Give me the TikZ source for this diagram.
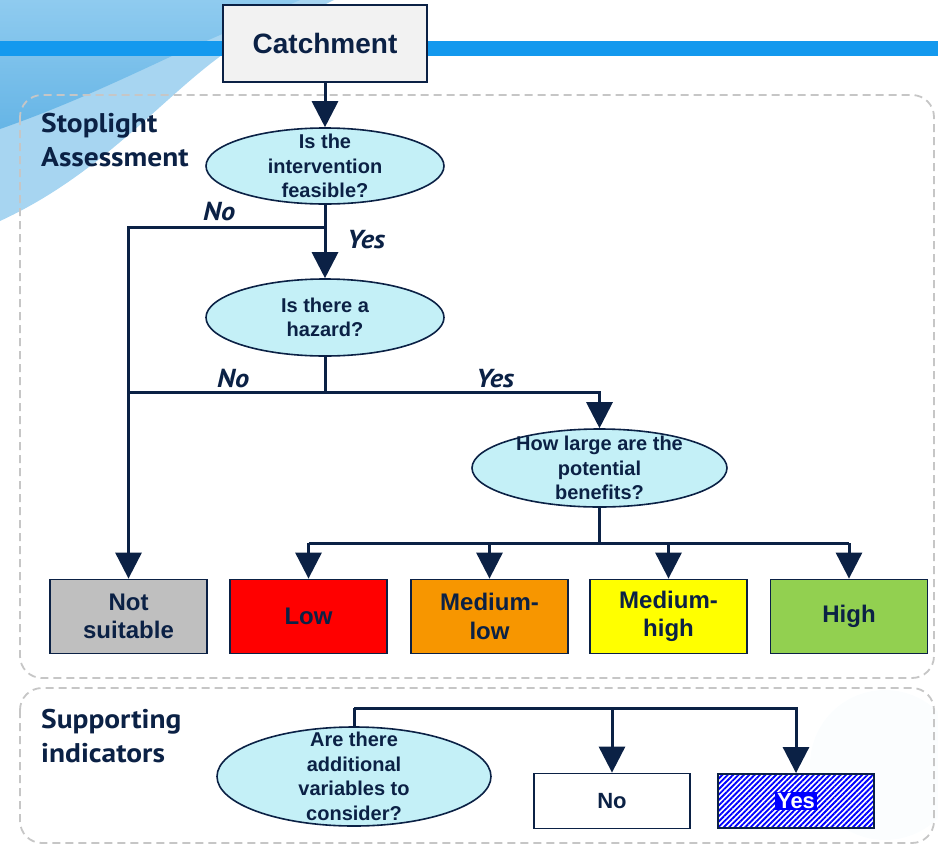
\documentclass[tikz,border=0pt]{standalone}
\usepackage{fontspec}
\setmainfont{Liberation Sans}
\newfontfamily\headfont[FakeStretch=1.09]{PT Sans}
\usetikzlibrary{arrows.meta,shapes.geometric,patterns.meta}

\definecolor{navy}{HTML}{0B2145}
\definecolor{barblue}{HTML}{1499EE}
\definecolor{swooshdark}{HTML}{66B5E6}
\definecolor{swooshtop}{HTML}{8FCBEF}
\definecolor{swooshlight}{HTML}{A7D5F1}
\definecolor{qfill}{HTML}{C4F0F7}
\definecolor{regiongray}{HTML}{C6C6C6}
\definecolor{greybox}{HTML}{BFBFBF}
\definecolor{redbox}{HTML}{FF0000}
\definecolor{orangebox}{HTML}{F79600}
\definecolor{yellowbox}{HTML}{FFFF00}
\definecolor{greenbox}{HTML}{92D050}
\definecolor{stripeblue}{HTML}{0000FF}

\tikzset{
  region/.style={draw=regiongray, line width=1.8pt, dash pattern=on 8pt off 5pt, rounded corners=22pt},
  question/.style={ellipse, draw=navy, line width=1.6pt, fill=qfill, inner sep=0pt},
  qtext/.style={text=navy, align=center, font=\bfseries\fontsize{20}{24.5}\selectfont, inner sep=0pt},
  outcome/.style={rectangle, draw=navy, line width=1.8pt, minimum width=157pt, minimum height=74pt,
    text=navy, align=center, font=\bfseries\fontsize{24}{28.5}\selectfont, inner sep=0pt},
  wire/.style={draw=navy, line width=3pt},
  flow/.style={wire, -{Triangle[width=26pt,length=26pt]}},
  branchlabel/.style={text=navy, anchor=base west, inner sep=0pt, font=\headfont\bfseries\itshape\fontsize{26}{30}\selectfont},
  sectiontitle/.style={text=navy, anchor=base west, inner sep=0pt, font=\headfont\bfseries\fontsize{27}{32}\selectfont},
}

\begin{document}
\begin{tikzpicture}[x=1pt,y=-1pt]
\useasboundingbox (0,0) rectangle (938,847);

% decorative header: swoosh and bar
\fill[swooshlight] (0,0) -- (334,0) -- (222,55) .. controls (160,100) and (100,175) .. (0,221) -- cycle;
\shade[top color=swooshtop, bottom color=swooshdark] (0,0) -- (300,0) -- (172,56) .. controls (110,85) and (60,108) .. (0,129) -- cycle;
\fill[white!92!swooshlight, opacity=0.6] (885,765) circle (75);
\fill[barblue] (0,41) rectangle (938,55.5);

% grouping frames
\draw[region] (20,95) rectangle (934,678);
\draw[region] (20,688) rectangle (934,843);

\node[sectiontitle] (t1) at (41,132) {Stoplight};
\node[sectiontitle] (t2) at (41,166) {Assessment};
\node[sectiontitle] (t3) at (41,728) {Supporting};
\node[sectiontitle] (t4) at (41,762) {indicators};

% start box
\node[rectangle, draw=navy, line width=1.8pt, fill=black!5, minimum width=204pt, minimum height=77pt,
      text=navy, font=\bfseries\fontsize{28}{32}\selectfont] (catch) at (325,43.5) {Catchment};

% questions
\node[question, minimum width=238pt, minimum height=76pt] (q1) at (325,166) {};
\node[qtext] at (q1.center) {Is the\\intervention\\feasible?};
\node[question, minimum width=238pt, minimum height=77pt] (q2) at (325,317.5) {};
\node[qtext] at (q2.center) {Is there a\\hazard?};
\node[question, minimum width=255pt, minimum height=78pt] (q3) at (599.5,468) {};
\node[qtext] at (q3.center) {How large are the\\potential\\benefits?};
\node[question, minimum width=274pt, minimum height=99pt] (q4) at (354,776.5) {};
\node[qtext] at (q4.center) {Are there\\additional\\variables to\\consider?};

% outcomes
\node[outcome, fill=greybox]   (ns)   at (128.5,616.5) {Not\\suitable};
\node[outcome, fill=redbox]    (low)  at (308.5,616.5) {Low};
\node[outcome, fill=orangebox] (mlow) at (489.5,616.5) {Medium-\\low};
\node[outcome, fill=yellowbox] (mhigh) at (668.5,616.5) {Medium-\\high};
\node[outcome, fill=greenbox]  (high) at (849,616.5) {High};

\node[outcome, fill=white, minimum width=156pt, minimum height=55pt, font=\bfseries\fontsize{22}{26}\selectfont] (no) at (612,801) {No};
\node[outcome, minimum width=156pt, minimum height=54pt, preaction={fill=white},
      pattern={Lines[angle=45,distance=3.8pt,line width=1.9pt]}, pattern color=stripeblue] (yes) at (796,801) {};
\node[fill=stripeblue, text=white, inner xsep=2pt, inner ysep=1.5pt, font=\bfseries\fontsize{22}{26}\selectfont] (yestxt) at (yes.center) {Yes};

% junctions
\coordinate (j1) at (325,227);
\coordinate (j2) at (325,392);
\coordinate (j3) at (599.5,543);
\coordinate (j4) at (354,708);

% connectors
\draw[flow] (catch.south) -- (q1.north);
\draw[wire] (q1.south) -- (j1);
\draw[flow] (j1) -- (q2.north);
\draw[flow] (j1) -| (ns.north);
\draw[wire] (q2.south) -- (j2);
\draw[wire] (j2) -- (ns.north |- j2);
\draw[flow] (j2) -| (q3.north);
\draw[wire] (q3.south) -- (j3);
\draw[wire] (low.north |- j3) -- (high.north |- j3);
\draw[flow] (low.north |- j3) -- (low.north);
\draw[flow] (mlow.north |- j3) -- (mlow.north);
\draw[flow] (mhigh.north |- j3) -- (mhigh.north);
\draw[flow] (high.north |- j3) -- (high.north);
\draw[wire] (q4.north) -- (j4);
\draw[flow] (j4) -| (yes.north);
\draw[flow] (no.north |- j4) -- (no.north);

% branch labels
\node[branchlabel] (no1) at (203,220) {No};
\node[branchlabel] (yes1) at (347,248) {Yes};
\node[branchlabel] (no2) at (217,387) {No};
\node[branchlabel] (yes2) at (476,387) {Yes};
\end{tikzpicture}
\end{document}
